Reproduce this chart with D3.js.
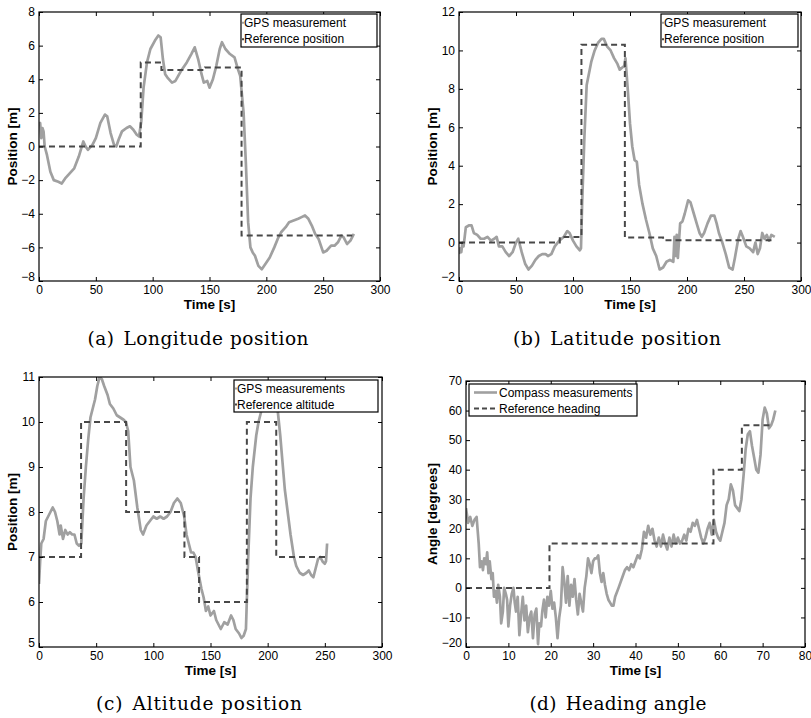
<!DOCTYPE html>
<html><head><meta charset="utf-8">
<script src="https://cdn.jsdelivr.net/npm/d3@7"></script>
<style>
body{margin:0;background:#fff;}
svg{display:block;}
.tick text{font-family:"Liberation Sans",Arial,sans-serif;font-size:12px;fill:#000;}
</style></head>
<body><svg id="c" width="811" height="718"></svg>
<script>
// ---------- Panel (a) Longitude ----------
const aGpsT = [0,1,2,3,4,5,7,10,13,17,20,23,27,31,35,39,41,43,47,50,54,58,60,63,66,68,70,73,77,80,83,86,88,90,92,95,98,102,105,107,109,111,113,117,120,125,130,134,137,140,143,145,148,150,153,156,159,161,164,168,172,175,177,180,182,184,186,188,190,193,196,199,203,207,210,213,217,220,224,228,231,234,237,240,243,246,250,253,257,260,263,266,268,271,274,277];
const aGpsV = [1.2,1.4,0.5,1.1,0.9,0,-0.5,-1.5,-2.0,-2.1,-2.2,-1.9,-1.6,-1.3,-0.6,0.3,0.0,-0.2,0.1,0.5,1.4,1.9,1.8,0.8,0.1,0.0,0.4,0.9,1.1,1.2,1.0,0.7,0.6,1.5,3.5,5.0,5.8,6.3,6.6,6.5,5.2,4.3,4.1,3.8,3.9,4.5,5.0,5.5,5.9,5.2,4.3,3.8,3.9,3.5,4.0,4.8,5.8,6.2,5.8,5.5,5.3,4.6,4.2,2.0,-1.0,-4.5,-6.0,-6.3,-6.5,-7.1,-7.3,-7.0,-6.6,-6.0,-5.5,-5.1,-4.8,-4.5,-4.4,-4.3,-4.2,-4.1,-4.3,-4.7,-5.2,-5.5,-6.3,-6.2,-5.9,-5.9,-5.7,-5.3,-5.4,-5.8,-5.6,-5.2];
const aRefT = [0,89.5,107.7,146,178.2,275.6];
const aRefV = [0,5,4.55,4.7,-5.3,-5.3];

// ---------- Panel (b) Latitude ----------
const bGpsT = [0,1,2,3,4,5,6,9,11,13,16,19,22,25,28,31,33,35,38,41,44,47,50,52,55,58,61,64,67,70,73,76,78,81,84,88,92,95,97,100,103,106,107,108,110,112,114,116,119,122,125,127,130,133,136,139,141,143,145,146,148,150,152,154,156,158,161,164,167,170,173,176,179,182,185,188,189,190,191,192,194,196,198,201,203,206,209,211,213,215,218,221,224,226,228,231,234,237,240,242,245,247,249,252,255,258,260,262,264,266,268,270,272,274,277];
const bGpsV = [-0.6,-0.3,-0.5,0,-0.2,0.3,0.8,0.9,0.9,0.5,0.4,0.2,0.2,0.3,0.1,0.2,0.3,-0.2,-0.2,-0.5,-0.7,-0.5,0.0,0.2,-0.5,-1.1,-1.4,-1.2,-0.9,-0.7,-0.6,-0.6,-0.7,-0.6,-0.2,0.1,0.3,0.6,0.5,0.1,-0.2,-0.4,-0.3,2.0,5.5,8.2,8.8,9.4,10.0,10.4,10.6,10.6,10.2,10.0,9.6,9.3,9.0,9.1,9.2,9.6,8.0,6.2,5.0,4.3,4.2,3.0,2.0,1.2,0.5,-0.3,-0.7,-1.4,-1.3,-1.0,-0.9,-1.0,0.3,-0.7,0.4,-0.8,1.0,1.1,1.5,2.2,2.1,1.5,0.9,0.5,0.3,0.5,1.0,1.4,1.4,1.0,0.5,0.0,-0.6,-1.3,-1.4,-0.8,0.2,0.6,0.3,-0.2,-0.3,-0.5,0.0,-0.6,-0.3,0.5,0.2,0.4,0.1,0.4,0.3];
const bRefT = [0,88.4,107.4,145.5,179,275.7];
const bRefV = [0,0.29,10.3,0.26,0.12,0.12];

// ---------- Panel (c) Altitude ----------
const cGpsT = [0,1,2,4,6,8,10,12,14,16,18,19,21,23,25,27,29,31,33,35,37,39,41,43,45,47,49,51,53,55,57,60,62,65,68,71,74,76,78,80,83,86,89,91,94,97,100,103,106,109,112,115,118,121,124,127,129,131,133,135,137,139,142,144,146,148,150,153,155,157,159,162,165,168,170,172,175,177,179,181,183,185,187,190,192,195,198,200,203,205,207,209,211,213,215,218,220,223,225,228,231,234,236,238,240,242,244,246,248,250,251,252];
const cGpsV = [6.4,6.9,7.3,7.4,7.8,7.9,8.0,8.1,8.0,7.8,7.5,7.7,7.4,7.6,7.5,7.55,7.5,7.5,7.3,7.25,7.3,8.3,9.0,9.6,10.1,10.3,10.5,10.8,11.0,10.95,10.8,10.6,10.4,10.3,10.15,10.1,10.05,10.0,9.8,9.0,8.7,8.1,7.6,7.5,7.7,7.8,7.9,7.85,7.9,7.85,7.9,8.0,8.2,8.3,8.2,7.9,7.5,7.3,7.1,7.1,7.0,6.7,6.3,6.1,5.8,5.9,5.7,5.8,5.6,5.5,5.4,5.55,5.5,5.7,5.6,5.4,5.3,5.2,5.25,5.4,7.0,8.3,9.0,9.7,10.0,10.3,10.4,10.4,10.5,10.6,10.7,10.2,9.7,9.1,8.5,7.9,7.5,7.0,6.8,6.65,6.6,6.65,6.7,6.6,6.55,6.75,6.95,7.0,6.9,6.85,6.9,7.3];
const cRefT = [0,36.8,76.2,127.2,140,181.8,207.5,251.2];
const cRefV = [7,10,8,7,6,10,7,7];

// ---------- Panel (d) Heading ----------
const dGpsT = [0,0.5,1,1.5,2,2.5,3,3.3,3.7,4,4.3,4.7,5,5.3,5.6,6,6.3,6.6,7,7.3,7.6,8,8.3,8.7,9,9.4,9.7,10,10.4,10.8,11.2,11.5,11.8,12.2,12.6,13,13.4,13.8,14.2,14.6,15,15.4,15.8,16.2,16.6,17,17.3,17.7,18,18.4,18.8,19.2,19.6,20,20.4,20.8,21.2,21.6,22,22.4,22.8,23.2,23.6,24,24.4,24.8,25.2,25.6,26,26.4,26.8,27.2,27.6,28,28.4,28.8,29.2,29.6,30,30.4,30.8,31.2,31.6,32,32.4,32.8,33.2,33.6,34,34.4,34.8,35.2,36,37,37.5,38,38.5,39,39.5,40,40.5,41,41.5,42,42.5,43,43.5,44,44.5,45,45.5,46,46.5,47,47.5,48,48.5,49,49.5,50,50.5,51,51.5,52,52.5,53,53.5,54,54.5,55,55.5,56,56.5,57,57.5,58,58.5,59,59.5,60,60.5,61,61.5,62,62.5,63,63.5,64,64.5,65,65.5,66,66.5,67,67.5,68,68.5,69,69.5,70,70.5,71,71.5,72,72.5,73];
const dGpsV = [27,22,24,21,23,24,15,7,9,6,10,8,12,5,9,3,5,-3,-1,-5,1,-3,-12,-8,0,-2,-4,-13,-6,-2,0,-5,-8,-3,-16,-9,-3,-11,-6,-15,-10,-8,-17,-9,-7,-19,-12,-13,-8,-4,-10,-3,-6,-1,-7,-5,-10,-17,-10,-6,7,2,-5,4,-6,1,-3,3,-4,-9,-2,-5,-8,0,4,10,8,5,9,10,10,11,5,2,5,1,-2,-4,-5,-6,-6,-3,0,4,6,7,6,8,7,9,11,10,13,19,17,21,18,20,16,14,17,14,18,15,13,17,14,18,15,17,15,16,18,16,20,19,22,21,23,20,17,15,17,20,22,18,23,19,17,16,19,22,28,30,35,33,28,27,26,30,38,47,52,53,48,44,40,39,45,57,61,59,54,55,57,60];
const dRefT = [0,19.7,58.4,65.1,72];
const dRefV = [0,15,40,55,55];

const xTicksPos = [0,50,100,150,200,250,300];
const xTicksHead = [0,10,20,30,40,50,60,70,80];

const panels = [
  {box:[39,12,380,281], x:[0,300], y:[-8,8], xt:xTicksPos, yt:[-8,-6,-4,-2,0,2,4,6,8],
   gT:aGpsT, gV:aGpsV, rT:aRefT, rV:aRefV, ylab:"Position [m]", ylx:13,
   leg:{box:[241,14,377,47], names:["GPS measurement","Reference position"], full:false},
   capTag:"(a)", cap:"Longitude position", capx:198, capy:345, capw:221},
  {box:[459,12,801,281], x:[0,300], y:[-2,12], xt:xTicksPos, yt:[-2,0,2,4,6,8,10,12],
   gT:bGpsT, gV:bGpsV, rT:bRefT, rV:bRefV, ylab:"Position [m]", ylx:433,
   leg:{box:[661,14,798,47], names:["GPS measurement","Reference position"], full:false},
   capTag:"(b)", cap:"Latitude position", capx:617, capy:345, capw:208},
  {box:[39,377,382,647], x:[0,300], y:[5,11], xt:xTicksPos, yt:[5,6,7,8,9,10,11],
   gT:cGpsT, gV:cGpsV, rT:cRefT, rV:cRefV, ylab:"Position [m]", ylx:13,
   leg:{box:[234,380,378,412], names:["GPS measurements","Reference altitude"], full:false},
   capTag:"(c)", cap:"Altitude position", capx:199, capy:710, capw:206},
  {box:[466,381,805,647], x:[0,80], y:[-20,70], xt:xTicksHead, yt:[-20,-10,0,10,20,30,40,50,60,70],
   gT:dGpsT, gV:dGpsV, rT:dRefT, rV:dRefV, ylab:"Angle [degrees]", ylx:433,
   leg:{box:[469,384,637,416], names:["Compass measurements","Reference heading"], full:true},
   capTag:"(d)", cap:"Heading angle", capx:618, capy:710, capw:177}
];

const svg = d3.select("#c");
const gpsColor = "#a0a0a0", refColor = "#484848";
const sans = '"Liberation Sans", Arial, sans-serif';

function fmt(v){ return v < 0 ? "\u2212" + Math.abs(v) : String(v); }

panels.forEach(p => {
  const [x0,y0,x1,y1] = p.box;
  const xs = d3.scaleLinear().domain(p.x).range([x0,x1]);
  const ys = d3.scaleLinear().domain(p.y).range([y1,y0]);
  const g = svg.append("g");
  const clipId = "clip" + x0 + "_" + y0;
  svg.append("clipPath").attr("id", clipId).append("rect")
    .attr("x", x0).attr("y", y0).attr("width", x1-x0).attr("height", y1-y0);

  const line = d3.line().x(d=>xs(d[0])).y(d=>ys(d[1]));
  const gps = p.gT.map((t,i)=>[t,p.gV[i]]);
  const ref = p.rT.map((t,i)=>[t,p.rV[i]]);

  g.append("path").datum(gps).attr("d", line)
    .attr("fill","none").attr("stroke",gpsColor).attr("stroke-width",2.7)
    .attr("stroke-linejoin","round").attr("clip-path","url(#"+clipId+")");
  g.append("path").datum(ref).attr("d", d3.line().x(d=>xs(d[0])).y(d=>ys(d[1])).curve(d3.curveStepAfter))
    .attr("fill","none").attr("stroke",refColor).attr("stroke-width",2)
    .attr("stroke-dasharray","6,4").attr("clip-path","url(#"+clipId+")");

  // axes: ticks inside on all sides (MATLAB style)
  const tl = 4;
  const axB = d3.axisBottom(xs).tickValues(p.xt).tickSize(-tl).tickPadding(4).tickFormat(fmt);
  const axT = d3.axisTop(xs).tickValues(p.xt).tickSize(-tl).tickFormat("");
  const axL = d3.axisLeft(ys).tickValues(p.yt).tickSize(-tl).tickPadding(4).tickFormat(fmt);
  const axR = d3.axisRight(ys).tickValues(p.yt).tickSize(-tl).tickFormat("");
  g.append("g").attr("transform",`translate(0,${y1})`).call(axB);
  g.append("g").attr("transform",`translate(0,${y0})`).call(axT);
  const gl = g.append("g").attr("transform",`translate(${x0},0)`).call(axL);
  g.append("g").attr("transform",`translate(${x1},0)`).call(axR);
  g.selectAll(".domain").remove();
  g.selectAll(".tick line").attr("stroke","#000").attr("stroke-width",1);
  gl.selectAll(".tick").filter((d,i)=>i===0).select("text").attr("dy","-0.05em");
  g.append("rect").attr("x",x0).attr("y",y0).attr("width",x1-x0).attr("height",y1-y0)
    .attr("fill","none").attr("stroke","#000").attr("stroke-width",1.2);

  // axis labels
  g.append("text").attr("x",(x0+x1)/2).attr("y",y1+28).attr("text-anchor","middle")
    .attr("font-family",sans).attr("font-weight","bold").attr("font-size",13.5)
    .text("Time [s]");
  g.append("text").attr("transform",`translate(${p.ylx},${(y0+y1)/2}) rotate(-90)`)
    .attr("text-anchor","middle").attr("dominant-baseline","middle")
    .attr("font-family",sans).attr("font-weight","bold").attr("font-size",13.5)
    .text(p.ylab);

  // legend
  const L = p.leg, [lx0,ly0,lx1,ly1] = L.box;
  g.append("rect").attr("x",lx0).attr("y",ly0).attr("width",lx1-lx0).attr("height",ly1-ly0)
    .attr("fill","#fff").attr("stroke","#000").attr("stroke-width",1.2);
  const rowH = (ly1-ly0)/2;
  L.names.forEach((n,i)=>{
    const cy = ly0 + rowH*(i+0.5) + 0.5;
    if (L.full) {
      g.append("line").attr("x1",lx0+5).attr("x2",lx0+28).attr("y1",cy).attr("y2",cy)
        .attr("stroke", i===0?gpsColor:refColor).attr("stroke-width", i===0?2.6:2)
        .attr("stroke-dasharray", i===0?null:"5,3");
      g.append("text").attr("x",lx0+30).attr("y",cy).attr("dominant-baseline","central")
        .attr("font-family",sans).attr("font-size",12).text(n);
    } else {
      g.append("line").attr("x1",lx0+1).attr("x2",lx0+3).attr("y1",cy).attr("y2",cy)
        .attr("stroke", i===0?gpsColor:refColor).attr("stroke-width",2);
      g.append("text").attr("x",lx0+3).attr("y",cy).attr("dominant-baseline","central")
        .attr("font-family",sans).attr("font-size",12).text(n);
    }
  });

  // caption (sub-figure label + title)
  const cap = svg.append("text").attr("x",p.capx).attr("y",p.capy).attr("text-anchor","middle")
    .attr("font-family",'"DejaVu Serif","Liberation Serif",serif').attr("font-size",18.5)
    .attr("textLength",p.capw).attr("lengthAdjust","spacing");
  cap.append("tspan").text(p.capTag);
  cap.append("tspan").attr("dx",9).text(p.cap);
});
</script></body></html>
